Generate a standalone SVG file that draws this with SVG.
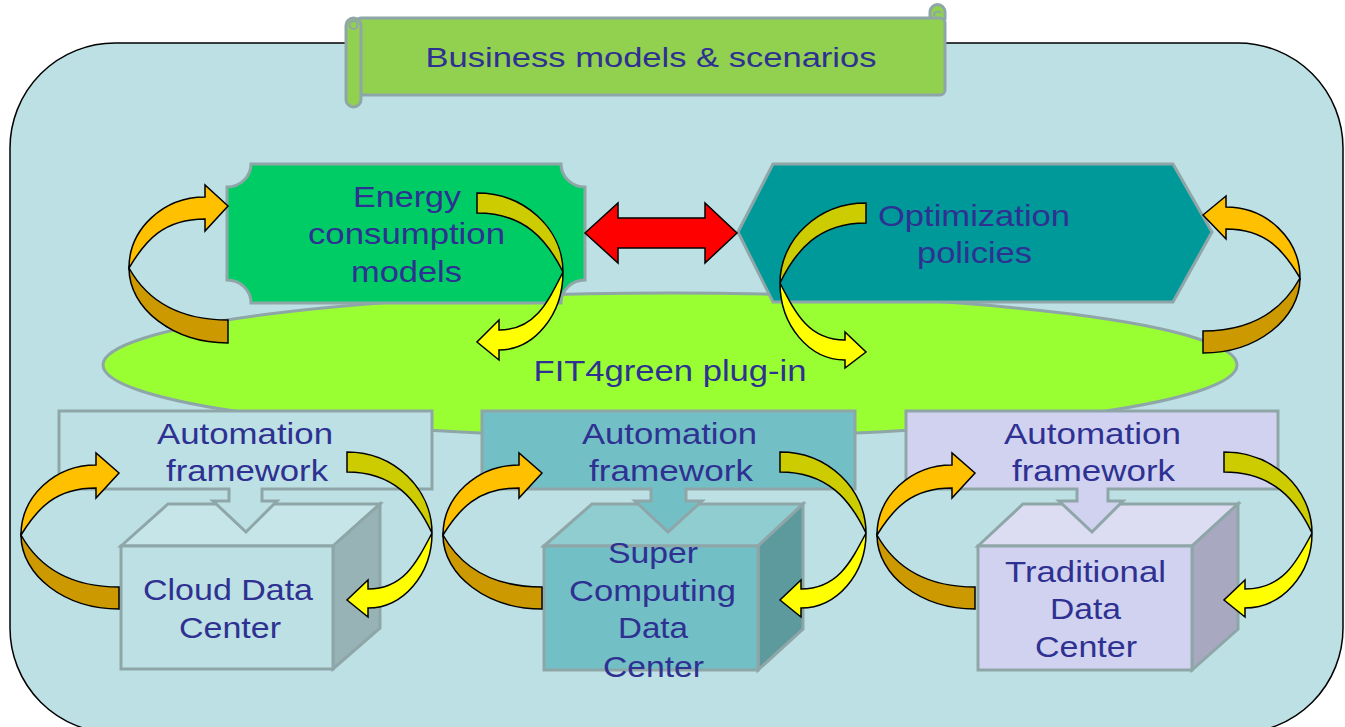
<svg xmlns="http://www.w3.org/2000/svg" width="1345" height="727" viewBox="0 0 1345 727">
<style>
.t{font-family:"Liberation Sans",Arial,sans-serif;fill:#2E3192;text-anchor:middle;font-size:30px}
.b{stroke:#8FA6A8;stroke-width:3;stroke-linejoin:miter}
.lp{stroke:#000;stroke-width:1.5;stroke-linejoin:miter}
.oa{fill:#FFC000}.ot{fill:#CC9900}.ya{fill:#FFFF00}.yt{fill:#CCCC00}
</style>
<rect x="0" y="0" width="1345" height="727" fill="#FFFFFF"/>
<g id="container">
<rect x="10" y="43" width="1333" height="690" rx="105" ry="105" fill="#BCE0E3" stroke="#000" stroke-width="1.5"/>
</g>
<g id="banner">
<path class="b" d="M930,20 L930,12 A7.5,7.5 0 0 1 945,12 L945,20" fill="#92D050"/>
<rect class="b" x="356" y="18" width="589" height="77" rx="5" fill="#92D050"/>
<path d="M934,16 A4,4 0 0 1 941,13" fill="none" stroke="#8FA6A8" stroke-width="2"/>
<rect class="b" x="346" y="18" width="15" height="89" rx="7.5" fill="#92D050"/>
<circle cx="353.5" cy="25" r="4" fill="none" stroke="#8FA6A8" stroke-width="2"/>
<text class="t" x="651" y="67" style="font-size:28px" textLength="451" lengthAdjust="spacingAndGlyphs">Business models &amp; scenarios</text>
</g>
<g id="plugin">
<ellipse class="b" cx="670" cy="365" rx="567" ry="72" fill="#99FF33"/>
<text class="t" x="670" y="381" textLength="273" lengthAdjust="spacingAndGlyphs">FIT4green plug-in</text>
</g>
<g id="energy">
<path class="b" fill="#00CC66" d="M251,164 H561 A24,23 0 0 0 585,187 V280 A24,23 0 0 0 561,303 H251 A24,23 0 0 0 227,280 V187 A24,23 0 0 0 251,164 Z"/>
<text class="t" x="407" y="207" textLength="108" lengthAdjust="spacingAndGlyphs">Energy</text>
<text class="t" x="406.5" y="244" textLength="197" lengthAdjust="spacingAndGlyphs">consumption</text>
<text class="t" x="406.5" y="282" textLength="111" lengthAdjust="spacingAndGlyphs">models</text>
</g>
<g id="optimization">
<polygon class="b" fill="#009999" points="738,232 773,164 1173,164 1212,232 1173,302 773,302"/>
<text class="t" x="974" y="226" textLength="192" lengthAdjust="spacingAndGlyphs">Optimization</text>
<text class="t" x="974.5" y="263" textLength="115" lengthAdjust="spacingAndGlyphs">policies</text>
</g>
<g id="cloud-dc">
<polygon class="b" fill="#C6E5E8" points="121,546 168,504 380,504 333,546"/>
<polygon class="b" fill="#97B3B5" points="333,546 380,504 380,628 333,669"/>
<rect class="b" x="121" y="546" width="212" height="123" fill="#BCE0E3"/>
<text class="t" x="228" y="600" textLength="170" lengthAdjust="spacingAndGlyphs">Cloud Data</text>
<text class="t" x="230" y="638" textLength="102" lengthAdjust="spacingAndGlyphs">Center</text>
</g>
<g id="automation-1">
<path class="b" fill="#BCE0E3" d="M59,411 H432 V489 H262 V501 H277 L246,532 L213,501 H229 V489 H59 Z"/>
<text class="t" x="245" y="444" textLength="176" lengthAdjust="spacingAndGlyphs">Automation</text>
<text class="t" x="247" y="481" textLength="162" lengthAdjust="spacingAndGlyphs">framework</text>
</g>
<g id="super-dc">
<polygon class="b" fill="#8FCDD1" points="544,546 592,504 803,504 758,546"/>
<polygon class="b" fill="#5C9A9E" points="758,546 803,504 803,629 758,670"/>
<rect class="b" x="544" y="546" width="214" height="124" fill="#72BFC5"/>
<text class="t" x="653" y="563" textLength="90" lengthAdjust="spacingAndGlyphs">Super</text>
<text class="t" x="652.5" y="601" textLength="167" lengthAdjust="spacingAndGlyphs">Computing</text>
<text class="t" x="653" y="638" textLength="70" lengthAdjust="spacingAndGlyphs">Data</text>
<text class="t" x="653.5" y="677" textLength="101" lengthAdjust="spacingAndGlyphs">Center</text>
</g>
<g id="automation-2">
<path class="b" fill="#72BFC5" d="M482,411 H855 V489 H686 V501 H702 L668,532 L635,501 H651 V489 H482 Z"/>
<text class="t" x="669.5" y="444" textLength="175" lengthAdjust="spacingAndGlyphs">Automation</text>
<text class="t" x="671" y="481" textLength="164" lengthAdjust="spacingAndGlyphs">framework</text>
</g>
<g id="traditional-dc">
<polygon class="b" fill="#DCDDF3" points="978,546 1023,504 1238,504 1192,546"/>
<polygon class="b" fill="#A8A8C0" points="1192,546 1238,504 1238,629 1192,670"/>
<rect class="b" x="978" y="546" width="214" height="124" fill="#D0D2EF"/>
<text class="t" x="1085.5" y="582" textLength="161" lengthAdjust="spacingAndGlyphs">Traditional</text>
<text class="t" x="1085.5" y="619" textLength="71" lengthAdjust="spacingAndGlyphs">Data</text>
<text class="t" x="1086" y="657" textLength="102" lengthAdjust="spacingAndGlyphs">Center</text>
</g>
<g id="automation-3">
<path class="b" fill="#D0D2EF" d="M906,411 H1278 V489 H1108 V501 H1123 L1092,532 L1059,501 H1077 V489 H906 Z"/>
<text class="t" x="1092.5" y="444" textLength="177" lengthAdjust="spacingAndGlyphs">Automation</text>
<text class="t" x="1093.5" y="481" textLength="163" lengthAdjust="spacingAndGlyphs">framework</text>
</g>
<g id="connectors">
<polygon class="lp" fill="#FF0000" points="585,233 618,203 618,218 705,218 705,203 737,233 705,263 705,248 618,248 618,263"/>
<path class="lp oa" d="M205,197 C163.2,197 129,228.95 129,268 C145,241.05 163.2,219 205,219 L205,231 L228,206 L205,185 Z"/>
<path class="lp ot" d="M129,268 C129,309.25 173.55,343 228,343 L228,320 C173.55,320 145,296.6 129,268 Z"/>
<path class="lp yt" d="M477,193 C524.3,193 563,228.55 563,272 C547,239.55 524.3,213 477,213 Z"/>
<path class="lp ya" d="M563,272 C563,314.9 534.2,350 499,350 L499,360 L477,342 L499,320 L499,330 C534.2,330 547,303.9 563,272 Z"/>
<path class="lp yt" d="M866,203 C818.7,203 780,239 780,283 C796,250 818.7,223 866,223 Z"/>
<path class="lp ya" d="M780,283 C780,325.35 809.25,360 845,360 L845,368 L866,352 L845,332 L845,340 C809.25,340 796,314.35 780,283 Z"/>
<path class="lp oa" d="M1226,207 C1266.7,207 1300,238.95 1300,278 C1284,251.05 1266.7,229 1226,229 L1226,239 L1203,215 L1226,196 Z"/>
<path class="lp ot" d="M1300,278 C1300,319.25 1256.35,353 1203,353 L1203,331 C1256.35,331 1284,307.15 1300,278 Z"/>
<path class="lp oa" d="M96,465 C54.75,465 21,496.5 21,535 C37,509.15 54.75,488 96,488 L96,498 L119,473 L96,453 Z"/>
<path class="lp ot" d="M21,535 C21,575.7 65.1,609 119,609 L119,587 C65.1,587 37,563.6 21,535 Z"/>
<path class="lp oa" d="M519,465 C477.2,465 443,496.5 443,535 C459,509.15 477.2,488 519,488 L519,498 L542,473 L519,453 Z"/>
<path class="lp ot" d="M443,535 C443,575.7 487.55,609 542,609 L542,587 C487.55,587 459,563.6 443,535 Z"/>
<path class="lp oa" d="M952,465 C910.75,465 877,496.5 877,535 C893,509.15 910.75,488 952,488 L952,498 L975,473 L952,453 Z"/>
<path class="lp ot" d="M877,535 C877,575.7 921.1,609 975,609 L975,587 C921.1,587 893,563.6 877,535 Z"/>
<path class="lp yt" d="M347,452 C393.75,452 432,488.45 432,533 C416,499.45 393.75,472 347,472 Z"/>
<path class="lp ya" d="M432,533 C432,574.25 403.2,608 368,608 L368,617 L347,600 L368,580 L368,589 C403.2,589 416,563.8 432,533 Z"/>
<path class="lp yt" d="M780,452 C827.3,452 866,488.45 866,533 C850,499.45 827.3,472 780,472 Z"/>
<path class="lp ya" d="M866,533 C866,574.25 836.75,608 801,608 L801,617 L780,600 L801,580 L801,589 C836.75,589 850,563.8 866,533 Z"/>
<path class="lp yt" d="M1224,452 C1272.4,452 1312,488.45 1312,533 C1296,499.45 1272.4,472 1224,472 Z"/>
<path class="lp ya" d="M1312,533 C1312,574.25 1281.85,608 1245,608 L1245,617 L1224,600 L1245,580 L1245,589 C1281.85,589 1296,563.8 1312,533 Z"/>
</g>
</svg>
